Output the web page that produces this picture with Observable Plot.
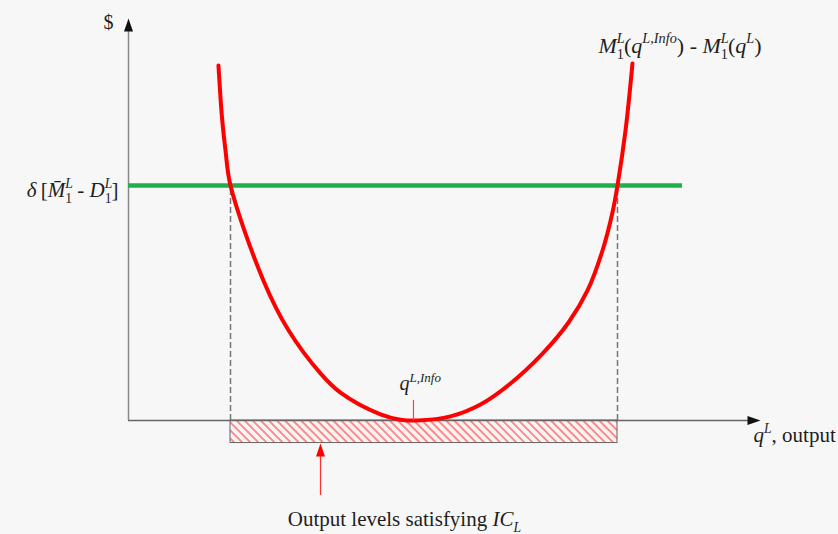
<!DOCTYPE html>
<html><head><meta charset="utf-8">
<script src="https://cdn.jsdelivr.net/npm/d3@7"></script>
<script src="https://cdn.jsdelivr.net/npm/@observablehq/plot@0.6"></script>
<style>
html,body{margin:0;padding:0;background:#f7f7f7;}
</style></head><body><div id="chart"></div>
<script>
// ---- data (q = output, v = $) ----
const curveQ = [1.435,1.491,1.547,1.627,2.153,2.552,3.062,3.381,4.019,4.338,4.609,5.136,5.614,6.093,6.603,7.018,7.321,7.560,7.719,7.799,7.927,8.038];
const curveV = [8.66,7.39,6.585,5.73,3.41,2.20,1.15,0.68,0.15,0.02,0,0.10,0.39,0.902,1.63,2.39,3.171,4.146,5.073,5.732,7.073,8.707];
const thresholdV = 5.73;
const thresholdEndQ = 8.836;
const crossQ = [1.627, 7.799];
const barDepth = [0, -0.55];
const infoQ = 4.545, infoTickTop = 0.49;
const captionArrowQ = 3.062, captionArrowFrom = -1.83, captionArrowTip = -0.56;
const axisEnd = [9.95, 9.6];      // x axis end q, y axis end v
const arrowTips = [10.08, 9.805]; // x tip q, y tip v

const labelPlain = ["$", "δ[M̄L1 - DL1]", "ML1(qL,Info) - ML1(qL)", "qL,Info", "qL, output", "Output levels satisfying ICL"];
const labelQ = [-0.32, -0.16, 7.496, 4.322, 9.968, 4.40];
const labelV = [9.71, 5.62, 9.146, 0.888, -0.35, -2.42];
const labelAnchor = ["middle", "end", "start", "start", "start", "middle"];
const labelSize = [20, 21, 22, 20, 21, 21];
const labelRich = [
  [["$",""]],
  [["δ\u2009","i"],["[",""],["M\u0304","i"],["L","i^"],["1","_s"],[" - ",""],["D","i"],["L","i^"],["1","_s"],["]",""]],
  [["M","i"],["L","i^"],["1","_s"],["(",""],["q","i"],["L,Info","i^"],[")",""],[" - ",""],["M","i"],["L","i^"],["1","_s"],["(",""],["q","i"],["L","i^"],[")",""]],
  [["q","i"],["L,Info","i^"]],
  [["q","i"],["L","i^"],[", output",""]],
  [["Output levels satisfying ",""],["IC","i"],["L","i_"]]
];

const curve = curveQ.map((q,i)=>({q, v: curveV[i]}));
const labels = labelPlain.map((t,i)=>({t, q: labelQ[i], v: labelV[i], a: labelAnchor[i], s: labelSize[i]}));

const headUp = {draw(c){ c.moveTo(0,0); c.lineTo(-4.5,13); c.lineTo(4.5,13); c.closePath(); }};
const FONT = "Liberation Serif, Times New Roman, serif";

const textMarks = ["start","middle","end"].map(a =>
  Plot.text(labels.filter(d=>d.a===a), {x:"q", y:"v", text:"t", textAnchor:a, fontSize: d=>d.s, fill:"#1e1e1e", fontFamily: FONT})
);

const plot = Plot.plot({
  width: 838, height: 534,
  marginLeft: 128, marginRight: 83, marginTop: 10, marginBottom: 114,
  x: {domain: [0, 10], axis: null},
  y: {domain: [0, 10], axis: null},
  style: "background:#f7f7f7; overflow:visible;",
  marks: [
    Plot.rect([0], {x1: crossQ[0], x2: crossQ[1], y1: barDepth[0], y2: barDepth[1], fill: "url(#hatch)", stroke: "#666", strokeWidth: 1}),
    Plot.ruleX(crossQ, {y1: 0, y2: thresholdV, stroke: "#777", strokeWidth: 1.5, strokeDasharray: "6,3"}),
    Plot.ruleY([0], {x1: 0, x2: axisEnd[0], stroke: "#666", strokeWidth: 1.5}),
    Plot.ruleX([0], {y1: 0, y2: axisEnd[1], stroke: "#888", strokeWidth: 1.5}),
    Plot.dot([0], {x: 0, y: arrowTips[1], symbol: headUp, fill: "#111", stroke: "none"}),
    Plot.dot([0], {x: arrowTips[0], y: 0, symbol: headUp, rotate: 90, fill: "#111", stroke: "none"}),
    Plot.ruleY([thresholdV], {x1: 0, x2: thresholdEndQ, stroke: "#1fb04c", strokeWidth: 4.5}),
    Plot.line(curve, {x: "q", y: "v", curve: "catmull-rom", stroke: "#ff0000", strokeWidth: 4}),
    Plot.ruleX([infoQ], {y1: 0, y2: infoTickTop, stroke: "#ff4040", strokeWidth: 1.2}),
    Plot.ruleX([captionArrowQ], {y1: captionArrowFrom, y2: captionArrowTip - 0.2, stroke: "#ff3030", strokeWidth: 1.2}),
    Plot.dot([0], {x: captionArrowQ, y: captionArrowTip, symbol: headUp, fill: "#ff0000", stroke: "none"}),
    ...textMarks
  ]
});
document.getElementById("chart").appendChild(plot);

// hatch pattern
const NS = "http://www.w3.org/2000/svg";
const defs = d3.select(plot).insert("defs", ":first-child");
const pat = defs.append("pattern").attr("id","hatch").attr("patternUnits","userSpaceOnUse")
  .attr("width",5.7).attr("height",5.7).attr("patternTransform","rotate(-45)");
pat.append("rect").attr("width",5.7).attr("height",5.7).attr("fill","#fbf2f2");
pat.append("line").attr("x1",1).attr("y1",0).attr("x2",1).attr("y2",5.7).attr("stroke","#ff3b3b").attr("stroke-width",1.1);

// rich text
d3.select(plot).selectAll("text").each(function(){
  const idx = labelPlain.indexOf(this.textContent);
  if (idx < 0) return;
  const segs = labelRich[idx], fs = labelSize[idx];
  this.textContent = "";
  let shift = 0, lastSup = null;
  for (const [txt, f] of segs) {
    const t = document.createElementNS(NS, "tspan");
    t.textContent = txt;
    const sup = f.includes("^"), sub = f.includes("_");
    const target = sup ? fs*0.42 : sub ? -fs*0.28 : 0;
    const dy = shift - target;
    if (dy) t.setAttribute("dy", dy);
    shift = target;
    t.setAttribute("font-style", f.includes("i") ? "italic" : "normal");
    if (sup || sub) t.setAttribute("font-size", fs*0.65);
    this.appendChild(t);
    if (f.includes("s") && lastSup) t.setAttribute("dx", -lastSup.getComputedTextLength());
    lastSup = sup ? t : null;
  }
});
</script></body></html>
